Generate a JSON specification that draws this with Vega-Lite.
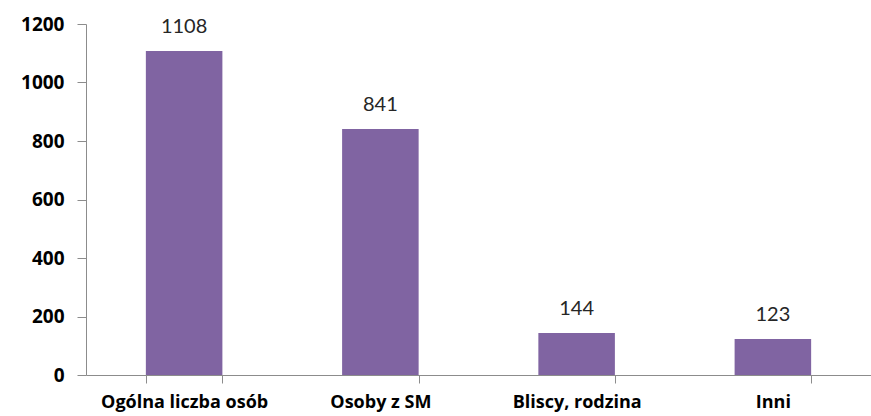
{
  "$schema": "https://vega.github.io/schema/vega-lite/v6.json",
  "autosize": "none",
  "width": 785,
  "height": 351,
  "padding": {"left": 86, "top": 24, "right": 0, "bottom": 41},
  "background": "white",
  "config": {"view": {"stroke": null}, "font": "Open Sans"},
  "data": {"values": [
    {"kategoria": "Ogólna liczba osób", "liczba": 1108},
    {"kategoria": "Osoby z SM", "liczba": 841},
    {"kategoria": "Bliscy, rodzina", "liczba": 144},
    {"kategoria": "Inni", "liczba": 123}
  ]},
  "encoding": {
    "x": {"field": "kategoria", "type": "nominal", "sort": null,
      "scale": {"paddingInner": 0.61, "paddingOuter": 0.305},
      "axis": {"title": null, "labelAngle": 0, "tickBand": "extent", "labelFont": "Open Sans", "labelFontWeight": "bold", "labelFontSize": 18, "labelColor": "#000000", "labelPadding": 10, "domainColor": "#8c8c8c", "tickColor": "#8c8c8c", "tickSize": 8}},
    "y": {"field": "liczba", "type": "quantitative",
      "scale": {"domain": [0, 1200], "nice": false},
      "axis": {"title": null, "format": "d", "values": [0, 200, 400, 600, 800, 1000, 1200], "grid": false, "labelFont": "Open Sans", "labelFontWeight": "bold", "labelFontSize": 19, "labelColor": "#000000", "labelPadding": 13, "domainColor": "#8c8c8c", "tickColor": "#8c8c8c", "tickSize": 9}}
  },
  "layer": [
    {"mark": {"type": "bar", "color": "#8064A2"}},
    {"mark": {"type": "text", "baseline": "bottom", "dy": -14, "fontSize": 20, "color": "#262626", "font": "Lato"},
      "encoding": {"text": {"field": "liczba", "type": "quantitative"}}}
  ]
}
